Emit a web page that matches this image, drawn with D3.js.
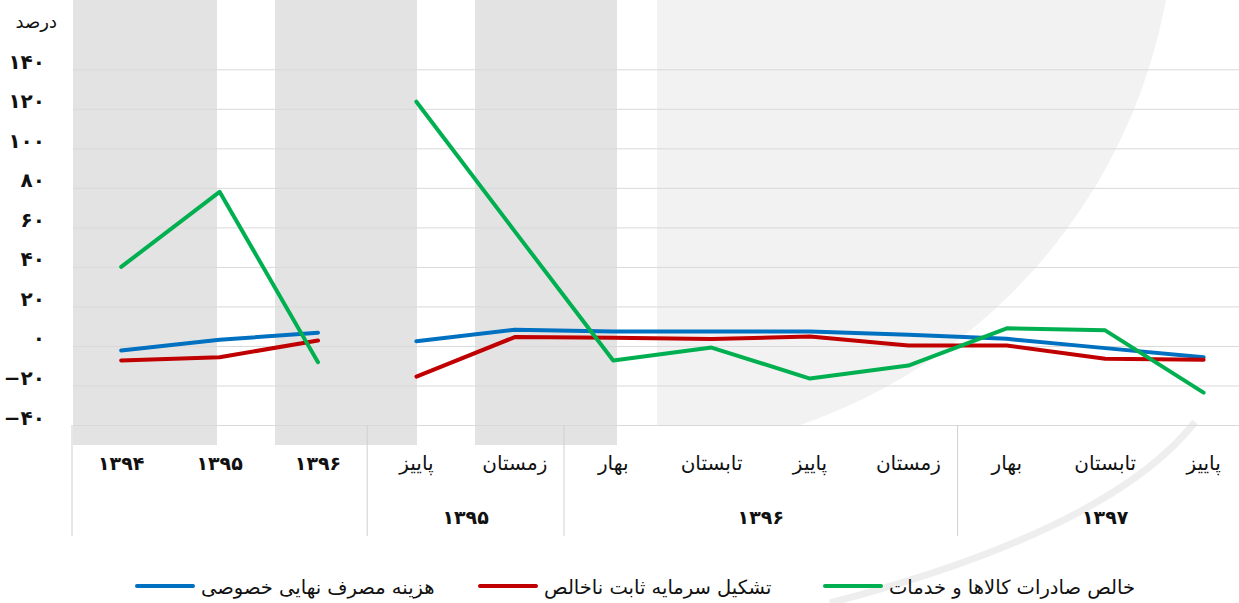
<!DOCTYPE html>
<html>
<head>
<meta charset="utf-8">
<script src="https://cdn.jsdelivr.net/npm/d3@7"></script>
<style>
  body { margin: 0; background: #fff; }
  svg { display: block; font-family: "DejaVu Sans", sans-serif; }
</style>
</head>
<body>
<div id="viz"></div>
<script>
var width = 1239;
var height = 603;

// categories (left to right as drawn)
var categories = ["۱۳۹۴", "۱۳۹۵", "۱۳۹۶", "پاییز", "زمستان", "بهار", "تابستان", "پاییز", "زمستان", "بهار", "تابستان", "پاییز"];
var groupLabels = ["", "۱۳۹۵", "۱۳۹۶", "۱۳۹۷"];
var groupStarts = [0, 3, 5, 9];
var groupEnds = [3, 5, 9, 12];

// series values (percent), null = gap between annual and quarterly parts
var privateConsumption = [-2.3, 3.1, 6.7, null, 2.4, 8.2, 7.3, 7.3, 7.3, 5.7, 3.6, -1.1, -5.7];
var grossCapital = [-7.3, -5.7, 2.8, null, -15.5, 4.5, 4.1, 3.5, 4.8, 0.2, 0.2, -6.5, -7];
var netExports = [40, 78, -8.2, null, 123.6, 58, -7.4, -0.8, -16.5, -9.9, 8.9, 7.9, -23.6];
// index into categories for each value slot above
var slotIndex = [0, 1, 2, 2, 3, 4, 5, 6, 7, 8, 9, 10, 11];

var yTicks = [-40, -20, 0, 20, 40, 60, 80, 100, 120, 140];
var yUnit = "درصد";

var seriesNames = ["هزینه مصرف نهایی خصوصی", "تشکیل سرمایه ثابت ناخالص", "خالص صادرات کالاها و خدمات"];
var seriesColors = ["#0070c0", "#c00000", "#00b050"];

function toPersian(n){
	var d = "۰۱۲۳۴۵۶۷۸۹";
	var s = String(Math.abs(n)).replace(/[0-9]/g, function(c){ return d[+c]; });
	return (n < 0 ? "\u2212" : "") + s;
}

var plotLeft = 72, bandW = 98.4;
var x = d3.scaleBand()
	.domain(d3.range(categories.length))
	.range([plotLeft, plotLeft + bandW * categories.length])
	.paddingInner(0).paddingOuter(0);
var y = d3.scaleLinear().domain([-40, 140]).range([425, 69.3]);

var svg = d3.select("#viz").append("svg")
	.attr("width", width)
	.attr("height", height);

// background watermark: grey stripes and pale disc
var defs = svg.append("defs");
defs.append("clipPath").attr("id", "discClip")
	.append("rect").attr("x", 657).attr("y", 0).attr("width", 700).attr("height", 425);
svg.append("circle")
	.attr("cx", 620).attr("cy", -100).attr("r", 555)
	.attr("fill", "#f2f2f2")
	.attr("clip-path", "url(#discClip)");
[[73, 217], [275, 417], [475, 617]].forEach(function(s){
	svg.append("rect")
		.attr("x", s[0]).attr("y", 0)
		.attr("width", s[1] - s[0]).attr("height", 445)
		.attr("fill", "#e3e3e3");
});
svg.append("path")
	.attr("d", "M1195,422 Q1110,530 830,603")
	.attr("fill", "none")
	.attr("stroke", "#eeeeee").attr("stroke-width", 7);

// gridlines
var grid = svg.append("g")
	.attr("transform", "translate(" + 73 + ",0)")
	.call(d3.axisLeft(y).tickValues(yTicks).tickSize(-(width - 73)).tickFormat(""));
grid.select(".domain").remove();
grid.selectAll(".tick line").attr("stroke", "#d9d9d9").attr("stroke-width", 1);

// y labels
var yAxis = svg.append("g")
	.attr("transform", "translate(" + 45 + ",0)")
	.call(d3.axisLeft(y).tickValues(yTicks).tickSize(0).tickPadding(0).tickFormat(toPersian));
yAxis.select(".domain").remove();
yAxis.selectAll("text")
	.attr("dy", "-0.05em")
	.attr("font-size", 20)
	.attr("font-weight", "bold")
	.attr("fill", "#111")
	.style("font-family", "DejaVu Sans");

svg.append("text")
	.attr("x", 57).attr("y", 28)
	.attr("text-anchor", "end")
	.attr("font-size", 18)
	.attr("fill", "#111")
	.text(yUnit);

// category table below plot
var xAxis = svg.append("g");
xAxis.selectAll("text.cat")
	.data(categories)
	.enter().append("text")
	.attr("class", "cat")
	.attr("x", function(d, i){ return x(i) + x.bandwidth() / 2; })
	.attr("y", 470)
	.attr("text-anchor", "middle")
	.attr("font-size", function(d, i){ return i < 3 ? 19 : 20; })
	.attr("font-weight", function(d, i){ return i < 3 ? "bold" : "normal"; })
	.attr("fill", "#111")
	.text(function(d){ return d; });

groupStarts.forEach(function(g, k){
	var x0 = x(g);
	xAxis.append("line")
		.attr("x1", x0).attr("x2", x0)
		.attr("y1", 425).attr("y2", 536)
		.attr("stroke", "#d0d0d0").attr("stroke-width", 1);
	var x1 = x(groupEnds[k] - 1) + x.bandwidth();
	xAxis.append("text")
		.attr("x", (x0 + x1) / 2)
		.attr("y", 524)
		.attr("text-anchor", "middle")
		.attr("font-size", 19)
		.attr("font-weight", "bold")
		.attr("fill", "#111")
		.text(groupLabels[k]);
});

// lines
var line = d3.line()
	.defined(function(d){ return d.v !== null; })
	.x(function(d){ return x(d.i) + x.bandwidth() / 2; })
	.y(function(d){ return y(d.v); });

[privateConsumption, grossCapital, netExports].forEach(function(vals, k){
	var pts = vals.map(function(v, j){ return {i: slotIndex[j], v: v}; });
	svg.append("path")
		.attr("d", line(pts))
		.attr("fill", "none")
		.attr("stroke", seriesColors[k])
		.attr("stroke-width", 4)
		.attr("stroke-linejoin", "round")
		.attr("stroke-linecap", "round");
});

// legend
var legendX = [137, 480, 825];
var legend = svg.append("g");
seriesNames.forEach(function(name, k){
	legend.append("line")
		.attr("x1", legendX[k]).attr("x2", legendX[k] + 56)
		.attr("y1", 586).attr("y2", 586)
		.attr("stroke", seriesColors[k])
		.attr("stroke-width", 4)
		.attr("stroke-linecap", "round");
	legend.append("text")
		.attr("x", legendX[k] + 64)
		.attr("y", 594)
		.attr("font-size", 19.5)
		.attr("fill", "#111")
		.text(name);
});
</script>
</body>
</html>
